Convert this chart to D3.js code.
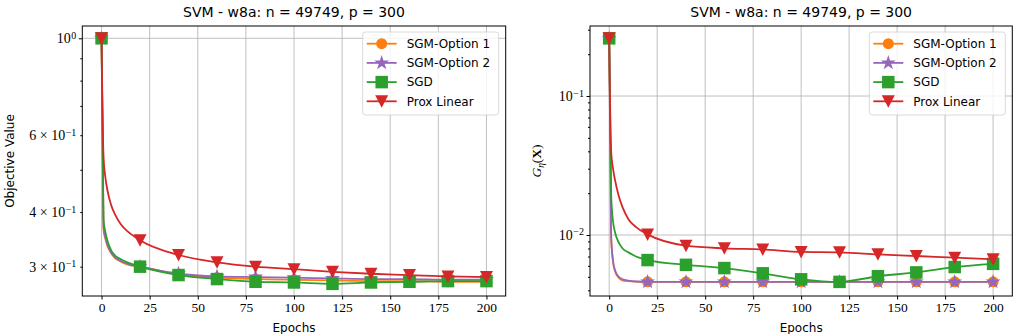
<!DOCTYPE html>
<html>
<head>
<meta charset="utf-8">
<script src="https://cdn.jsdelivr.net/npm/d3@7"></script>
<style>
	body { margin: 0; background: #fff; }
	svg { display: block; }
	.tick text { font-family: "Liberation Serif", "DejaVu Serif", serif; }
</style>
</head>
<body>
<div id="chart"></div>
<script>
const epochs = [0, 1, 2, 3, 5, 7, 10, 14, 20, 40, 60, 80, 100, 120, 140, 160, 180, 200];
const seriesNames = ["SGM-Option 1", "SGM-Option 2", "SGD", "Prox Linear"];
const xTicks = [0, 25, 50, 75, 100, 125, 150, 175, 200];

// left panel: objective value
const objSgm1 = [1.0, 0.365, 0.347, 0.335, 0.322, 0.314, 0.308, 0.303, 0.300, 0.288, 0.283, 0.281, 0.280, 0.279, 0.278, 0.278, 0.277, 0.277];
const objSgm2 = [1.0, 0.37, 0.35, 0.337, 0.323, 0.315, 0.309, 0.304, 0.300, 0.289, 0.285, 0.284, 0.283, 0.282, 0.281, 0.281, 0.280, 0.280];
const objSgd = [1.0, 0.385, 0.36, 0.345, 0.327, 0.318, 0.312, 0.306, 0.300, 0.287, 0.281, 0.277, 0.276, 0.274, 0.276, 0.277, 0.278, 0.278];
const objProx = [1.0, 0.54, 0.48, 0.45, 0.415, 0.395, 0.375, 0.36, 0.345, 0.319, 0.307, 0.300, 0.296, 0.292, 0.289, 0.287, 0.285, 0.284];

// right panel: G_eta(X)
const gSgm1 = [0.26, 0.0098, 0.0064, 0.0055, 0.0049, 0.0047, 0.00465, 0.00462, 0.0046, 0.0046, 0.0046, 0.0046, 0.0046, 0.0046, 0.0046, 0.0046, 0.0046, 0.0046];
const gSgm2 = [0.26, 0.010, 0.0065, 0.0056, 0.0050, 0.0048, 0.0047, 0.00463, 0.0046, 0.0046, 0.0046, 0.0046, 0.0046, 0.0046, 0.0046, 0.0046, 0.0046, 0.0046];
const gSgd = [0.26, 0.020, 0.0125, 0.0105, 0.0088, 0.0080, 0.0075, 0.0070, 0.0066, 0.0061, 0.00578, 0.0053, 0.0048, 0.0046, 0.00505, 0.00538, 0.00588, 0.0062];
const gProx = [0.26, 0.040, 0.030, 0.025, 0.019, 0.0158, 0.013, 0.0114, 0.0101, 0.00838, 0.00802, 0.00788, 0.00755, 0.0075, 0.00726, 0.00706, 0.00687, 0.00668];

// y ticks: [value, label mantissa or null, is major]
const objTicks = [[1, "1", true], [0.9, null], [0.8, null], [0.7, null], [0.6, "6"], [0.5, null], [0.4, "4"], [0.3, "3"]];
const gTicks = [[0.1, "1", true], [0.01, "1", true], [0.3, null], [0.2, null],
	[0.09, null], [0.08, null], [0.07, null], [0.06, null], [0.05, null], [0.04, null], [0.03, null], [0.02, null],
	[0.009, null], [0.008, null], [0.007, null], [0.006, null], [0.005, null], [0.004, null]];

const colors = ["#ff7f0e", "#9467bd", "#2ca02c", "#d62728"];
const W = 1019, H = 334;

const svg = d3.select("#chart").append("svg").attr("width", W).attr("height", H);

function sym(i) {
	if (i === 0) return d3.symbol().type(d3.symbolCircle).size(Math.PI * 5.5 * 5.5)();
	if (i === 1) return d3.symbol().type(d3.symbolStar).size(70)();
	if (i === 2) return d3.symbol().type(d3.symbolSquare).size(12.5 * 12.5)();
	return "M-6.5,-6L6.5,-6L0,6.5Z"; // triangle down
}

function panel(opt) {
	const g = svg.append("g");
	const x = d3.scaleLinear().domain([-10, 210]).range([opt.left, opt.right]);
	const y = d3.scaleLog().domain(opt.ydom).range([296, 26]);
	const top = 26, bottom = 296;

	// grid
	g.selectAll(".vg").data(xTicks).join("line")
		.attr("x1", d => x(d)).attr("x2", d => x(d)).attr("y1", top).attr("y2", bottom)
		.attr("stroke", "#b0b0b0").attr("stroke-width", 0.8);
	g.selectAll(".hg").data(opt.ticks.filter(t => t[2])).join("line")
		.attr("x1", opt.left).attr("x2", opt.right).attr("y1", d => y(d[0])).attr("y2", d => y(d[0]))
		.attr("stroke", "#b0b0b0").attr("stroke-width", 0.8);

	// lines + markers
	opt.series.forEach((vals, i) => {
		const pts = epochs.map((e, k) => [e, vals[k]]);
		g.append("path").datum(pts)
			.attr("fill", "none").attr("stroke", colors[i]).attr("stroke-width", 1.8)
			.attr("d", d3.line().curve(d3.curveMonotoneX).x(d => x(d[0])).y(d => y(d[1])));
		g.selectAll(null).data(pts.filter(d => d[0] % 20 === 0)).join("path")
			.attr("transform", d => `translate(${x(d[0])},${y(d[1])})`)
			.attr("d", sym(i)).attr("fill", colors[i]);
	});

	// frame
	g.append("rect").attr("x", opt.left).attr("y", top).attr("width", opt.right - opt.left).attr("height", bottom - top)
		.attr("fill", "none").attr("stroke", "#000").attr("stroke-width", 1);

	// x axis
	const xa = g.append("g").attr("transform", `translate(0,${bottom})`)
		.call(d3.axisBottom(x).tickValues(xTicks).tickSize(3.5).tickPadding(3).tickFormat(d3.format("d")));
	xa.select(".domain").remove();
	xa.selectAll("text").style("font-size", "13.5px").attr("fill", "#000");

	// y axis
	const ya = g.append("g").attr("transform", `translate(${opt.left},0)`)
		.call(d3.axisLeft(y).tickValues(opt.ticks.map(t => t[0])).tickSize(3).tickPadding(3).tickFormat(() => ""));
	ya.select(".domain").remove();
	ya.selectAll(".tick").each(function (d) {
		const t = opt.ticks.find(tt => tt[0] === d);
		d3.select(this).select("line").attr("x2", t[2] ? -3.5 : -2);
		const txt = d3.select(this).select("text").style("font-size", "14px").attr("fill", "#000").attr("dy", "0.32em");
		if (!t[1]) return;
		const e = t[2] ? Math.round(Math.log10(d)) : Math.floor(Math.log10(d));
		if (t[2]) {
			txt.append("tspan").text("10");
		} else {
			txt.append("tspan").text(t[1]);
			txt.append("tspan").attr("dx", 3.5).text("\u00d7");
			txt.append("tspan").attr("dx", 3.5).text("10");
		}
		txt.append("tspan").attr("dy", "-0.45em").attr("dx", 0.5).style("font-size", "10px").text(e === 0 ? "0" : "\u2212" + (-e));
	});

	// title and labels
	const cx = (opt.left + opt.right) / 2;
	g.append("text").attr("x", cx).attr("y", 17).attr("text-anchor", "middle")
		.style("font-family", "DejaVu Sans, sans-serif").style("font-size", "14px").text("SVM - w8a: n = 49749, p = 300");
	g.append("text").attr("x", cx).attr("y", 332).attr("text-anchor", "middle")
		.style("font-family", "DejaVu Sans, sans-serif").style("font-size", "12px").text("Epochs");
	opt.ylabel(g, 161);

	// legend
	const lx = opt.right - 143, ly = 32;
	const lg = g.append("g").attr("transform", `translate(${lx},${ly})`);
	lg.append("rect").attr("width", 136).attr("height", 83).attr("rx", 3)
		.attr("fill", "rgba(255,255,255,0.8)").attr("stroke", "#d0d0d0").attr("stroke-width", 0.8);
	seriesNames.forEach((n, i) => {
		const yy = 11.7 + i * 19.2;
		lg.append("line").attr("x1", 4).attr("x2", 34).attr("y1", yy).attr("y2", yy)
			.attr("stroke", colors[i]).attr("stroke-width", 1.8);
		lg.append("path").attr("transform", `translate(19,${yy})`).attr("d", sym(i)).attr("fill", colors[i]);
		lg.append("text").attr("x", 44).attr("y", yy + 4.3)
			.style("font-family", "DejaVu Sans, sans-serif").style("font-size", "12px").text(n);
	});
}

panel({
	left: 82.3, right: 505.7, ydom: [0.257, 1.067], ticks: objTicks,
	series: [objSgm1, objSgm2, objSgd, objProx],
	ylabel: (g, cy) => g.append("text").attr("transform", `translate(14,${cy}) rotate(-90)`).attr("text-anchor", "middle")
		.style("font-family", "DejaVu Sans, sans-serif").style("font-size", "12px").text("Objective Value")
});

panel({
	left: 590, right: 1012.3, ydom: [0.00364, 0.319], ticks: gTicks,
	series: [gSgm1, gSgm2, gSgd, gProx],
	ylabel: (g, cy) => {
		const t = g.append("text").attr("transform", `translate(541,${cy}) rotate(-90)`).attr("text-anchor", "middle")
			.style("font-family", "Liberation Serif, serif").style("font-size", "13.5px");
		t.append("tspan").style("font-style", "italic").text("G");
		t.append("tspan").attr("dy", "3").style("font-size", "9.5px").style("font-style", "italic").text("\u03b7");
		t.append("tspan").attr("dy", "-3").text("(");
		t.append("tspan").style("font-weight", "bold").text("X");
		t.append("tspan").text(")");
	}
});
</script>
</body>
</html>
